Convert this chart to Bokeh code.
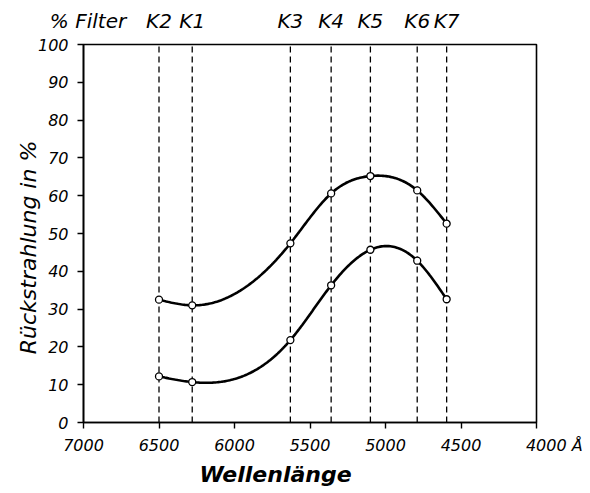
import numpy as np
from bokeh.plotting import figure
from bokeh.models import Range1d, FixedTicker, LinearAxis, Title
from bokeh.embed import file_html
from bokeh.resources import INLINE

# ---- data ----
wavelength = [6500, 6280, 5630, 5360, 5100, 4790, 4595]          # filter positions in Å
filter_names = ["K2", "K1", "K3", "K4", "K5", "K6", "K7"]
upper = [32.5, 31.0, 47.4, 60.6, 65.2, 61.4, 52.6]                # upper curve, %
lower = [12.2, 10.7, 21.8, 36.3, 45.7, 42.8, 32.6]                # lower curve, %
x_ticks = [7000, 6500, 6000, 5500, 5000, 4500, 4000]
y_ticks = [0, 10, 20, 30, 40, 50, 60, 70, 80, 90, 100]

FONT = "DejaVu Sans"
NB = "\u00a0"


def natural_spline(xs, ys, n=200):
    """Smooth drawing of the curve through the measured points (natural cubic spline)."""
    x = np.asarray(xs, float)[::-1]
    y = np.asarray(ys, float)[::-1]
    k = len(x)
    h = np.diff(x)
    A = np.zeros((k, k))
    b = np.zeros(k)
    A[0, 0] = A[-1, -1] = 1.0
    for i in range(1, k - 1):
        A[i, i - 1] = h[i - 1]
        A[i, i] = 2 * (h[i - 1] + h[i])
        A[i, i + 1] = h[i]
        b[i] = 6 * ((y[i + 1] - y[i]) / h[i] - (y[i] - y[i - 1]) / h[i - 1])
    M = np.linalg.solve(A, b)
    xx = np.linspace(x[0], x[-1], n)
    yy = np.empty_like(xx)
    for j, xv in enumerate(xx):
        i = min(np.searchsorted(x, xv, side="right") - 1, k - 2)
        i = max(i, 0)
        t1 = x[i + 1] - xv
        t0 = xv - x[i]
        yy[j] = (M[i] * t1 ** 3 / (6 * h[i]) + M[i + 1] * t0 ** 3 / (6 * h[i])
                 + (y[i] / h[i] - M[i] * h[i] / 6) * t1
                 + (y[i + 1] / h[i] - M[i + 1] * h[i] / 6) * t0)
    return xx, yy


W, H = 588, 491
FL, FR, FT, FB = 83, 536, 44, 422   # frame edges in page pixels
p = figure(width=W, height=H, output_backend="svg", toolbar_location=None,
           x_range=Range1d(7000, 4000), y_range=Range1d(0, 100),
           min_border_left=FL, min_border_right=W - FR, min_border_top=FT,
           min_border_bottom=H - FB)
p.background_fill_color = "white"
p.border_fill_color = "white"
p.outline_line_color = "black"
p.outline_line_width = 1.6
p.xgrid.visible = False
p.ygrid.visible = False

for ax in (p.xaxis, p.yaxis):
    ax.axis_line_color = "black"
    ax.axis_line_width = 1.6
    ax.major_tick_line_color = "black"
    ax.major_tick_line_width = 1.4
    ax.major_tick_out = 6
    ax.major_tick_in = 0
    ax.minor_tick_line_color = None
    ax.major_label_text_font = FONT
    ax.major_label_text_font_style = "italic"
    ax.major_label_text_font_size = "16px"
    ax.major_label_text_color = "black"

p.xaxis.ticker = FixedTicker(ticks=x_ticks)
p.yaxis.ticker = FixedTicker(ticks=y_ticks)
p.xaxis.major_label_standoff = 7
p.yaxis.major_label_standoff = 9
# "4000 Å": padded so that the number stays near its tick and the unit follows it
p.xaxis.major_label_overrides = {4000: NB * 7 + "4000 Å"}

# y axis title (trailing padding moves it a little below the frame centre, as in the original)
p.yaxis.axis_label = "Rückstrahlung in %" + NB * 4
p.yaxis.axis_label_text_font = FONT
p.yaxis.axis_label_text_font_style = "italic"
p.yaxis.axis_label_text_font_size = "22px"
p.yaxis.axis_label_text_color = "black"
p.yaxis.axis_label_standoff = -6

# filter names along the top, as a second axis at the filter wavelengths
filter_label_pos = 6970   # where the "% Filter" caption sits (left end of the top row)
top = LinearAxis(ticker=FixedTicker(ticks=[filter_label_pos] + wavelength),
                 major_label_overrides={**{filter_label_pos: "% Filter"},
                                        **{w: n for w, n in zip(wavelength, filter_names)}},
                 axis_line_color=None, major_tick_line_color=None,
                 major_tick_out=0, major_tick_in=0, minor_tick_line_color=None,
                 major_label_standoff=12,
                 major_label_text_font=FONT, major_label_text_font_style="italic",
                 major_label_text_font_size="20px", major_label_text_color="black")
p.add_layout(top, "above")

# x axis title
p.add_layout(Title(text="Wellenlänge", align="left", offset=199 - FL,
                   text_font=FONT, text_font_style="bold italic", text_font_size="22px",
                   text_color="black", standoff=4), "below")

# dashed filter lines
p.segment(x0=wavelength, y0=[0] * len(wavelength), x1=wavelength, y1=[100] * len(wavelength),
          line_color="black", line_width=1.3, line_dash="6 4")

# curves
for series in (upper, lower):
    xs, ys = natural_spline(wavelength, series)
    p.line(xs, ys, line_color="black", line_width=2.6)
    p.scatter(wavelength, series, marker="circle", size=7, fill_color="white",
              line_color="black", line_width=1.3)

open("out.html", "w").write(file_html(p, INLINE))
